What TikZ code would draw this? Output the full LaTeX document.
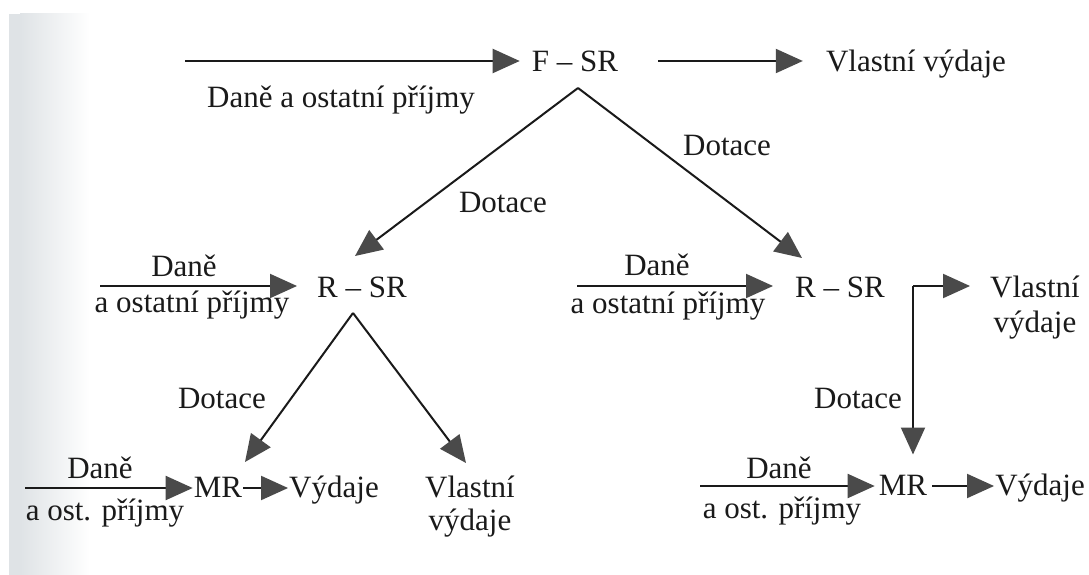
\documentclass[tikz,border=0pt]{standalone}
\usepackage{fontspec}
\setmainfont{Liberation Serif}
\usetikzlibrary{arrows.meta,calc}
\definecolor{ink}{HTML}{1A1A1A}
\definecolor{headgray}{HTML}{4A4A4A}
\definecolor{scanedge}{HTML}{DFE3E6}
\begin{document}
\begin{tikzpicture}[x=1pt,y=-1pt,
  lbl/.style={inner sep=0pt, anchor=base, text=ink, font=\fontsize{31}{36}\selectfont},
  flow/.style={draw=ink, line width=2pt, -{Triangle[length=27pt,width=24pt,color=headgray]}}]
\useasboundingbox (0,0) rectangle (1089,575);
\fill[white] (0,0) rectangle (1089,575);
% grey page edge on the left
\fill[scanedge] (9,14) rectangle (20,575);
\shade[left color=scanedge, right color=white] (20,14) rectangle (90,575);

% ---- state level
\node[lbl] (fsr)    at (575,72)  {F -- SR};
\node[lbl] (topin)  at (341,108) {Daně a ostatní příjmy};
\node[lbl] (topout) at (916,72)  {Vlastní výdaje};
\node[lbl] (dotTR)  at (727,155) {Dotace};
\node[lbl] (dotTL)  at (503,212) {Dotace};

% ---- regional level
\node[lbl] (daneML) at (184,276) {Daně};
\node[lbl] (prijML) at (192,312) {a ostatní příjmy};
\node[lbl] (rsrL)   at (362,297) {R -- SR};
\node[lbl] (daneMR) at (657,275) {Daně};
\node[lbl] (prijMR) at (668,313) {a ostatní příjmy};
\node[lbl] (rsrR)   at (840,297) {R -- SR};
\node[lbl] (vlastR1) at (1035,297) {Vlastní};
\node[lbl] (vlastR2) at (1035,332) {výdaje};
\node[lbl] (dotL)   at (222,408) {Dotace};
\node[lbl] (dotR)   at (858,408) {Dotace};

% ---- municipal level
\node[lbl] (daneBL) at (100,478) {Daně};
\node[lbl] (prijBL) at (105,520) {a ost. příjmy};
\node[lbl] (mrL)    at (218,497) {MR};
\node[lbl] (vydL)   at (334,497) {Výdaje};
\node[lbl] (vlastL1) at (470,497) {Vlastní};
\node[lbl] (vlastL2) at (470,530) {výdaje};
\node[lbl] (daneBR) at (779,478) {Daně};
\node[lbl] (prijBR) at (782,518) {a ost. příjmy};
\node[lbl] (mrR)    at (903,495) {MR};
\node[lbl] (vydR)   at (1040,495) {Výdaje};

% ---- free ends and bends
\coordinate (topStart) at (185,61);
\coordinate (fsrFork)  at (578,88);
\coordinate (rsrLtip)  at (355,256);
\coordinate (rsrRtip)  at (802,258);
\coordinate (mlStart)  at (100,286);
\coordinate (mrStart)  at (577,286);
\coordinate (elbow)    at (913,286);
\coordinate (rsrLfork) at (353,313);
\coordinate (mrLtip)   at (245,462);
\coordinate (vlastLtip) at (466,463);
\coordinate (blStart)  at (25,488);
\coordinate (brStart)  at (700,486);

% ---- flows
\draw[flow, shorten >=12pt] (topStart) -- (topStart -| fsr.west);
\draw[flow, shorten <=40pt, shorten >=23pt] (fsr.east |- topStart) -- (topout.west |- topStart);
\draw[flow] (fsrFork) -- (rsrLtip);
\draw[flow] (fsrFork) -- (rsrRtip);

\draw[flow, shorten >=20pt] (mlStart) -- (mlStart -| rsrL.west);
\draw[flow, shorten >=22pt] (mrStart) -- (mrStart -| rsrR.west);
\draw[flow, shorten >=20pt] (elbow) -- (elbow -| vlastR1.west);
\draw[flow, shorten >=20pt] (elbow) -- (elbow |- mrR.north);

\draw[flow] (rsrLfork) -- (mrLtip);
\draw[flow] (rsrLfork) -- (vlastLtip);

\draw[flow, shorten >=1pt] (blStart) -- (blStart -| mrL.west);
\draw[flow, shorten <=1pt, shorten >=1pt] (mrL.east |- blStart) -- (vydL.west |- blStart);
\draw[flow, shorten >=4pt] (brStart) -- (brStart -| mrR.west);
\draw[flow, shorten <=5pt, shorten >=1pt] (mrR.east |- brStart) -- (vydR.west |- brStart);
\end{tikzpicture}
\end{document}
